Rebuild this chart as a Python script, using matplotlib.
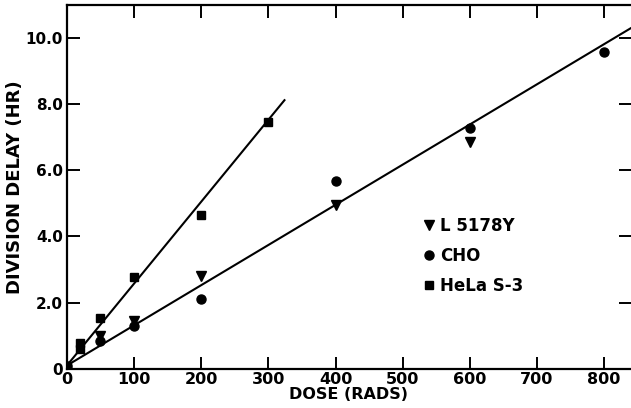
import matplotlib
matplotlib.use("Agg")
import matplotlib.pyplot as plt

# readings
l5178y_dose = [50, 100, 200, 400, 600]
l5178y_delay = [1.0, 1.45, 2.82, 4.95, 6.85]

cho_dose = [0, 50, 100, 200, 400, 600, 800]
cho_delay = [0.1, 0.85, 1.3, 2.12, 5.68, 7.28, 9.58]

hela_dose = [0, 20, 20, 50, 100, 200, 300]
hela_delay = [0.1, 0.6, 0.78, 1.55, 2.78, 4.65, 7.45]

# fitted lines (end points)
hela_fit_dose = [0, 324]
hela_fit_delay = [0.1, 8.12]
other_fit_dose = [0, 840]
other_fit_delay = [0.1, 10.3]

x_ticks = [0, 100, 200, 300, 400, 500, 600, 700, 800]
y_ticks = [0, 2, 4, 6, 8, 10]
y_ticklabels = ["0", "2.0", "4.0", "6.0", "8.0", "10.0"]

plt.rcParams["font.family"] = "DejaVu Sans"
plt.rcParams["font.weight"] = "bold"

fig = plt.figure(figsize=(6.31, 4.08), dpi=100)
ax = fig.add_axes([0.106, 0.096, 0.894, 0.892])

ax.plot(hela_fit_dose, hela_fit_delay, color="black", lw=1.5, zorder=2)
ax.plot(other_fit_dose, other_fit_delay, color="black", lw=1.5, zorder=2)

ax.plot(l5178y_dose, l5178y_delay, "v", color="black", ms=7.5, ls="none", label="L 5178Y", zorder=3)
ax.plot(cho_dose, cho_delay, "o", color="black", ms=6.5, ls="none", label="CHO", zorder=3)
ax.plot(hela_dose, hela_delay, "s", color="black", ms=6, ls="none", label="HeLa S-3", zorder=3)

ax.set_xlim(0, 840)
ax.set_ylim(0, 11)
ax.set_xticks(x_ticks)
ax.set_xticklabels([str(v) for v in x_ticks])
ax.set_yticks(y_ticks)
ax.set_yticklabels(y_ticklabels)

ax.spines["right"].set_visible(False)
for s in ["left", "top", "bottom"]:
    ax.spines[s].set_linewidth(1.6)

ax.tick_params(axis="both", direction="in", length=9, width=1.4, labelsize=11.5,
               top=True, right=True, pad=3)
ax.tick_params(axis="y", labelsize=11)
ax.tick_params(axis="x", pad=2)

ax.set_xlabel("DOSE (RADS)", fontsize=11.5, fontweight="bold", labelpad=0)
ax.set_ylabel("DIVISION DELAY (HR)", fontsize=13, fontweight="bold")
ax.yaxis.set_label_coords(-0.076, 0.5)

ax.legend(loc="upper left", bbox_to_anchor=(0.612, 0.435), frameon=False,
          fontsize=12, handletextpad=0.1, labelspacing=0.7, handlelength=1.2,
          borderaxespad=0)

fig.savefig("out.png", dpi=100)
